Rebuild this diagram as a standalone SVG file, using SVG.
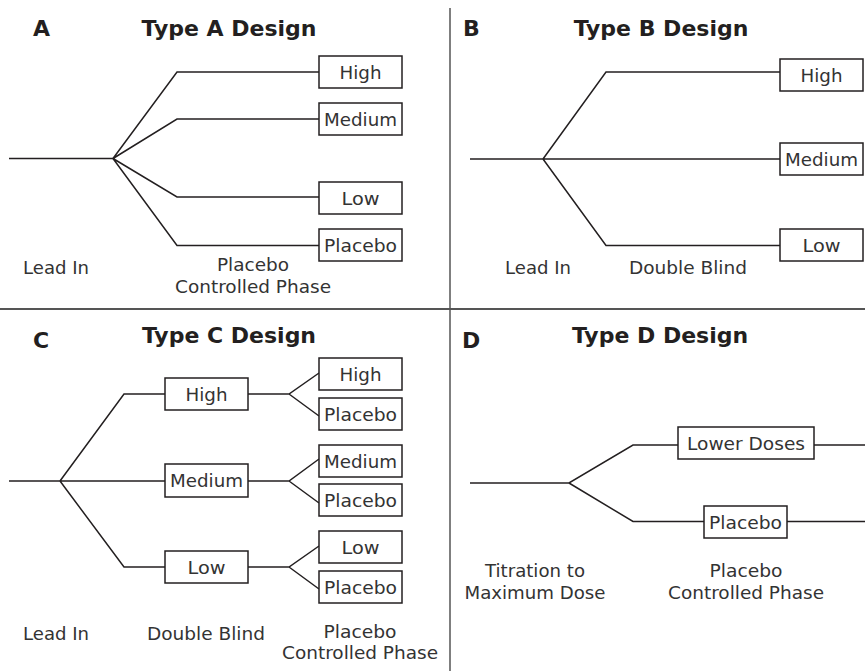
<svg xmlns="http://www.w3.org/2000/svg" width="865" height="671" viewBox="0 0 865 671">
<style>
  .title{font-family:"DejaVu Sans",sans-serif;font-weight:bold;font-size:22px;fill:#231f20}
  .lbl{font-family:"DejaVu Sans",sans-serif;font-size:17.5px;fill:#333;text-anchor:middle}
  .box rect{fill:#fff;stroke:#231f20;stroke-width:1.5}
  .box text{font-family:"DejaVu Sans",sans-serif;font-size:17.5px;fill:#333;text-anchor:middle}
  .conn path{fill:none;stroke:#231f20;stroke-width:1.5}
  .div{stroke:#555;fill:none}
</style>
<rect width="865" height="671" fill="#fff"/>
<g id="dividers">
  <line class="div" x1="0" y1="309" x2="865" y2="309" stroke-width="2"/>
  <line class="div" x1="450" y1="8" x2="450" y2="671" stroke-width="1.5"/>
</g>
<g id="titles">
  <text class="title" x="33" y="36">A</text>
  <text class="title" x="229" y="36" text-anchor="middle">Type A Design</text>
  <text class="title" x="463" y="36">B</text>
  <text class="title" x="661" y="36" text-anchor="middle">Type B Design</text>
  <text class="title" x="33" y="348">C</text>
  <text class="title" x="229" y="343" text-anchor="middle">Type C Design</text>
  <text class="title" x="462" y="348">D</text>
  <text class="title" x="660" y="343" text-anchor="middle">Type D Design</text>
</g>
<g id="connectors" class="conn">
  <path d="M9 158.5H113" stroke-width="2.5"/>
  <path d="M113 158.5L177 72H319M113 158.5L177 119H319M113 158.5L177 197H319M113 158.5L177 245.5H319"/>
  <path d="M470 159H543M543 159L606 72H780M543 159H780M543 159L606 245.5H780"/>
  <path d="M9 481H60M60 481L124 394H165M60 481H165M60 481L124 567H165"/>
  <path d="M248 394H289L319 373M289 394L319 416"/>
  <path d="M248 481H289L319 459M289 481L319 503"/>
  <path d="M248 567H289L319 546M289 567L319 589"/>
  <path d="M470 483H569L633 445H678M569 483L633 521.5H704M814 445H865M787 521.5H865"/>
</g>
<g id="nodeA-high" class="box"><rect x="319" y="56" width="83" height="32"/><text x="360.5" y="78.5" textLength="42" lengthAdjust="spacingAndGlyphs">High</text></g>
<g id="nodeA-medium" class="box"><rect x="319" y="103" width="83" height="32"/><text x="360.5" y="125.5" textLength="73" lengthAdjust="spacingAndGlyphs">Medium</text></g>
<g id="nodeA-low" class="box"><rect x="319" y="182" width="83" height="32"/><text x="360.5" y="204.5" textLength="38" lengthAdjust="spacingAndGlyphs">Low</text></g>
<g id="nodeA-placebo" class="box"><rect x="319" y="229" width="83" height="32"/><text x="360.5" y="251.5" textLength="73" lengthAdjust="spacingAndGlyphs">Placebo</text></g>
<g id="nodeB-high" class="box"><rect x="780" y="59" width="83" height="32"/><text x="821.5" y="81.5" textLength="42" lengthAdjust="spacingAndGlyphs">High</text></g>
<g id="nodeB-medium" class="box"><rect x="780" y="143" width="83" height="32"/><text x="821.5" y="165.5" textLength="73" lengthAdjust="spacingAndGlyphs">Medium</text></g>
<g id="nodeB-low" class="box"><rect x="780" y="229" width="83" height="32"/><text x="821.5" y="251.5" textLength="38" lengthAdjust="spacingAndGlyphs">Low</text></g>
<g id="nodeC-high" class="box"><rect x="165" y="378" width="83" height="32"/><text x="206.5" y="400.5" textLength="42" lengthAdjust="spacingAndGlyphs">High</text></g>
<g id="nodeC-medium" class="box"><rect x="165" y="464" width="83" height="33"/><text x="206.5" y="487" textLength="73" lengthAdjust="spacingAndGlyphs">Medium</text></g>
<g id="nodeC-low" class="box"><rect x="165" y="551" width="83" height="32"/><text x="206.5" y="573.5" textLength="38" lengthAdjust="spacingAndGlyphs">Low</text></g>
<g id="nodeC-high-high" class="box"><rect x="319" y="358" width="83" height="32"/><text x="360.5" y="380.5" textLength="42" lengthAdjust="spacingAndGlyphs">High</text></g>
<g id="nodeC-high-placebo" class="box"><rect x="319" y="398" width="83" height="32"/><text x="360.5" y="420.5" textLength="73" lengthAdjust="spacingAndGlyphs">Placebo</text></g>
<g id="nodeC-medium-medium" class="box"><rect x="319" y="445" width="83" height="32"/><text x="360.5" y="467.5" textLength="73" lengthAdjust="spacingAndGlyphs">Medium</text></g>
<g id="nodeC-medium-placebo" class="box"><rect x="319" y="484" width="83" height="32"/><text x="360.5" y="506.5" textLength="73" lengthAdjust="spacingAndGlyphs">Placebo</text></g>
<g id="nodeC-low-low" class="box"><rect x="319" y="531" width="83" height="32"/><text x="360.5" y="553.5" textLength="38" lengthAdjust="spacingAndGlyphs">Low</text></g>
<g id="nodeC-low-placebo" class="box"><rect x="319" y="571" width="83" height="32"/><text x="360.5" y="593.5" textLength="73" lengthAdjust="spacingAndGlyphs">Placebo</text></g>
<g id="nodeD-lower" class="box"><rect x="678" y="427" width="136" height="32"/><text x="746" y="449.5" textLength="118" lengthAdjust="spacingAndGlyphs">Lower Doses</text></g>
<g id="nodeD-placebo" class="box"><rect x="704" y="506" width="83" height="32"/><text x="745.5" y="528.5" textLength="73" lengthAdjust="spacingAndGlyphs">Placebo</text></g>
<g id="labels">
  <text class="lbl" x="56" y="274" textLength="66" lengthAdjust="spacingAndGlyphs">Lead In</text>
  <text class="lbl" x="253" y="271" textLength="72" lengthAdjust="spacingAndGlyphs">Placebo</text>
  <text class="lbl" x="253" y="293" textLength="156" lengthAdjust="spacingAndGlyphs">Controlled Phase</text>
  <text class="lbl" x="538" y="274" textLength="66" lengthAdjust="spacingAndGlyphs">Lead In</text>
  <text class="lbl" x="688" y="274" textLength="118" lengthAdjust="spacingAndGlyphs">Double Blind</text>
  <text class="lbl" x="56" y="640" textLength="66" lengthAdjust="spacingAndGlyphs">Lead In</text>
  <text class="lbl" x="206" y="640" textLength="118" lengthAdjust="spacingAndGlyphs">Double Blind</text>
  <text class="lbl" x="360" y="638" textLength="73" lengthAdjust="spacingAndGlyphs">Placebo</text>
  <text class="lbl" x="360" y="659" textLength="156" lengthAdjust="spacingAndGlyphs">Controlled Phase</text>
  <text class="lbl" x="535" y="577" textLength="100" lengthAdjust="spacingAndGlyphs">Titration to</text>
  <text class="lbl" x="535" y="599" textLength="141" lengthAdjust="spacingAndGlyphs">Maximum Dose</text>
  <text class="lbl" x="746" y="577" textLength="73" lengthAdjust="spacingAndGlyphs">Placebo</text>
  <text class="lbl" x="746" y="599" textLength="156" lengthAdjust="spacingAndGlyphs">Controlled Phase</text>
</g>
</svg>
